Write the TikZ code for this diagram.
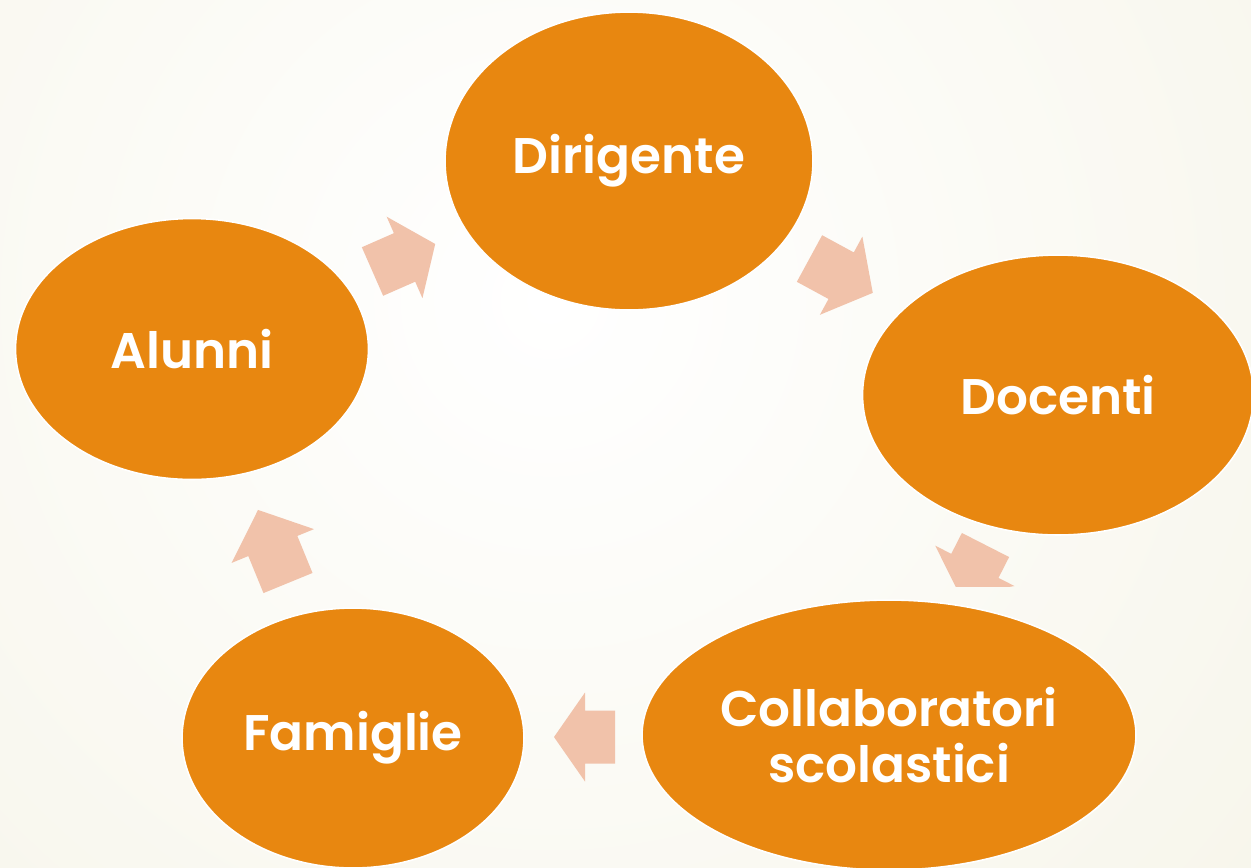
\documentclass[tikz,border=0pt]{standalone}
\usepackage{fontspec}
\setmainfont{Poppins}[BoldFont={Poppins SemiBold}]
\usetikzlibrary{shapes.geometric}

\definecolor{bubbleorange}{RGB}{232,135,16}
\definecolor{arrowpink}{RGB}{241,194,170}
\definecolor{paper}{RGB}{238,235,212}

\tikzset{
  bubble/.style={ellipse, fill=bubbleorange, draw=white, line width=0.9pt,
    text=white, align=center, inner sep=0pt,
    font=\fontsize{28.5}{32}\selectfont\bfseries},
  arrowfill/.style={fill=arrowpink}
}

% block arrow: tail midpoint, angle, body length, head length
\newcommand{\cyclearrow}[5]{%
  \fill[arrowfill, shift={(#1,#2)}, rotate=#3]
    (0,-26.5) -- (#4,-26.5) -- (#4,-44.5) -- ({#4+#5},0)
    -- (#4,44.5) -- (#4,26.5) -- (0,26.5) -- cycle;
}

\begin{document}
\begin{tikzpicture}[x=0.02cm, y=-0.02cm]
\useasboundingbox (0,0) rectangle (1251,867);
\begin{scope}
\clip (0,0) rectangle (1251,867);
\fill[paper] (0,0) rectangle (1251,867);
\shade[inner color=white, outer color=paper] (550,300) circle (40cm);
\end{scope}

\begin{scope}
\clip (0,0) rectangle (1251,867);
\node[bubble, minimum width=7.36cm, minimum height=5.96cm] (dirigente) at (629,161) {Dirigente};
\node[bubble, minimum width=7.82cm, minimum height=5.6cm] (docenti) at (1058,395) {Docenti};
\node[bubble, minimum width=9.88cm, minimum height=5.4cm] (collab) at (889,735) {Collaboratori\\scolastici};
\node[bubble, minimum width=6.84cm, minimum height=5.2cm] (famiglie) at (353,738) {Famiglie};
\node[bubble, minimum width=7.06cm, minimum height=5.22cm] (alunni) at (192,349) {Alunni};
\end{scope}

% arrows round the cycle
\cyclearrow{372.5}{271.5}{23.7}{35}{33.5}
\cyclearrow{809.5}{258.5}{-28.5}{36}{36}
\begin{scope}
\clip (900,500) rectangle (1100,586);
\cyclearrow{985.5}{545}{-117}{23.4}{33}
\end{scope}
\cyclearrow{615}{737}{180}{30}{31}
\cyclearrow{288}{583}{112.3}{40}{39}
\end{tikzpicture}
\end{document}
